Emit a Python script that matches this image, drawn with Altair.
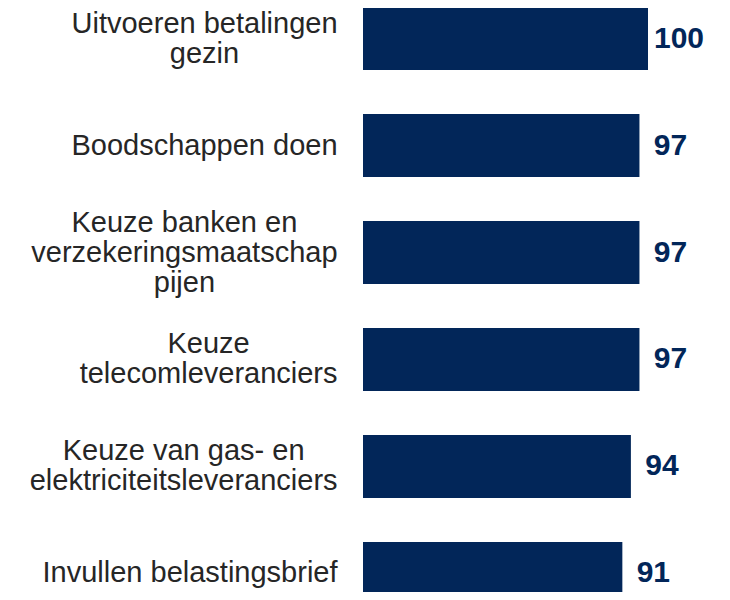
import json
import altair as alt
import pandas as pd

# ---- data ----
categories = [
    "Uitvoeren betalingen\ngezin",
    "Boodschappen doen",
    "Keuze banken en\nverzekeringsmaatschap\npijen",
    "Keuze\ntelecomleveranciers",
    "Keuze van gas- en\nelektriciteitsleveranciers",
    "Invullen belastingsbrief",
]
values = [100, 97, 97, 97, 94, 91]

BAR = "#022659"
TEXT = "#262626"
FONT = "Liberation Sans"
LABEL_SIZE = 29
LINE_HEIGHT = 30

# Arial / Liberation Sans advance widths (1/1000 em) to centre each label's lines
ADV = {
    "a": 556, "b": 556, "c": 500, "d": 556, "e": 556, "f": 278, "g": 556, "h": 556,
    "i": 222, "j": 222, "k": 500, "l": 222, "m": 833, "n": 556, "o": 556, "p": 556,
    "q": 556, "r": 333, "s": 500, "t": 278, "u": 556, "v": 500, "w": 722, "x": 500,
    "y": 500, "z": 500, " ": 278, "-": 333, "B": 667, "U": 722, "K": 667, "I": 278,
}


def text_width(s):
    return sum(ADV.get(ch, 556) for ch in s) * LABEL_SIZE / 1000


GAP = 26
pad_conds = []
off_conds = []
for c in categories:
    lines = c.split("\n")
    w = max(text_width(line) for line in lines)
    test = f"datum.value === {json.dumps(c)}"
    pad_conds.append({"test": test, "value": GAP + w / 2})
    off_conds.append({"test": test, "value": -(len(lines) - 1) * LINE_HEIGHT / 2})

df = pd.DataFrame({"category": categories, "value": values})

y = alt.Y(
    "category:N",
    sort=categories,
    scale=alt.Scale(range=[-1, 597], paddingInner=0.41, paddingOuter=0),
    axis=alt.Axis(
        title=None,
        domain=False,
        ticks=False,
        tickSize=0,
        labelAlign="center",
        labelBaseline="middle",
        labelFont=FONT,
        labelFontSize=LABEL_SIZE,
        labelColor=TEXT,
        labelLineHeight=LINE_HEIGHT,
        labelLimit=600,
        labelPadding={"condition": pad_conds, "value": 160},
        labelOffset={"condition": off_conds, "value": 0},
        labelExpr="split(datum.label, '\\n')",
    ),
)
x = alt.X("value:Q", scale=alt.Scale(domain=[0, 100]), axis=None)

bars = alt.Chart(df).mark_bar(color=BAR).encode(x=x, y=y)
labels = alt.Chart(df).mark_text(
    align="center", baseline="middle", dx=31, fontSize=30, fontWeight="bold",
    color=BAR, font=FONT,
).encode(x=x, y=alt.Y("category:N", sort=categories), text="value:Q")

chart = (
    alt.layer(bars, labels)
    .properties(
        width=285,
        height=584,
        padding={"left": 355, "top": 0, "right": 74, "bottom": 0},
        autosize=alt.AutoSizeParams(type="none"),
        background="white",
    )
    .configure_view(stroke=None)
)

chart.save("out.html", embed_options={"renderer": "svg", "actions": False})
